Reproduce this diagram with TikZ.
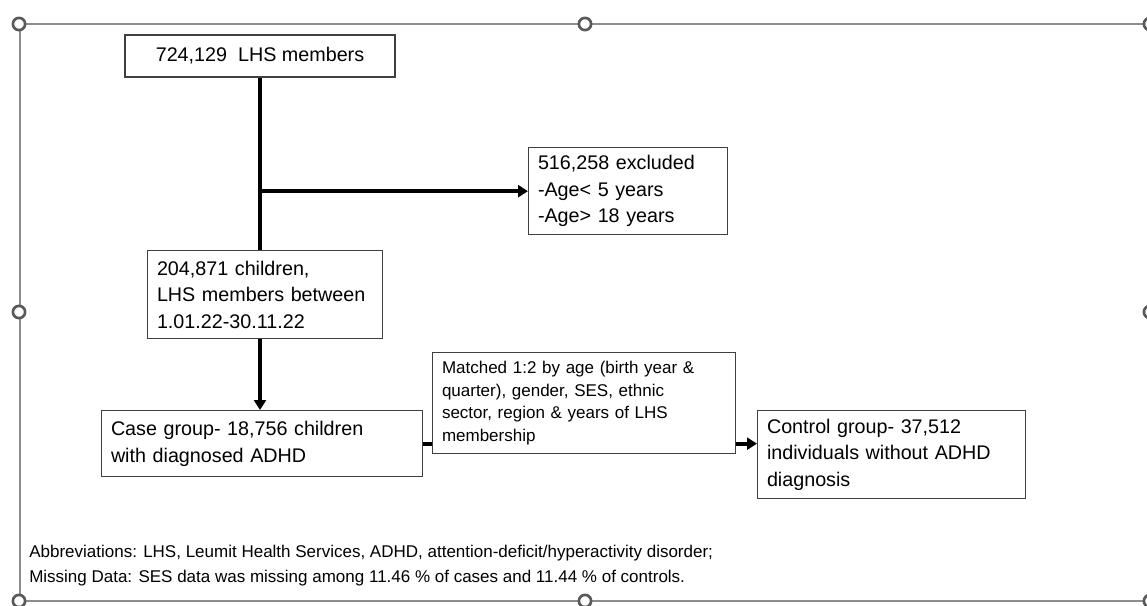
\documentclass[tikz,border=0pt]{standalone}
\usepackage{fontspec}
\setmainfont{Liberation Sans}
\usetikzlibrary{arrows.meta}

\begin{document}
\begin{tikzpicture}[
  x=0.75pt, y=-0.75pt,
  every node/.style={font=\fontsize{14.8}{20}\selectfont},
  box/.style={draw=black!75, line width=1pt, anchor=north west,
    inner xsep=7pt, inner ysep=0pt, align=left},
  small/.style={font=\fontsize{12.75}{16.9}\selectfont},
  link/.style={line width=3pt},
  arrow/.style={link, -{Triangle[length=7.5pt, width=9pt]}},
  note/.style={anchor=base west, inner sep=0pt, font=\fontsize{12.75}{17}\selectfont},
  frame/.style={draw=black!45, line width=1.3pt},
  handle/.style={draw=black!65, line width=2pt, fill=white}
]
  \useasboundingbox (0,0) rectangle (1147,606);
  \clip (0,0) rectangle (1147,606);

  % selection frame
  \draw[frame] (20,24) rectangle (1150,601);
  \foreach \hx/\hy in {19/24, 585/24, 1150/24, 19/312, 1150/312, 19/601, 585/601, 1150/601}
    \draw[handle] (\hx,\hy) circle[radius=4.6pt];

  % boxes
  \node[box, anchor=center, align=center, minimum width=202.5pt, minimum height=31.5pt]
    (members) at (260,56) {724,129\ \ LHS members};
  \node[box, text width=135.25pt, minimum height=65.25pt] (excluded) at (528,147)
    {516,258 excluded\\-Age< 5 years\\-Age> 18 years};
  \node[box, text width=162.25pt, minimum height=66pt] (children) at (147,250)
    {204,871 children,\\LHS members between\\1.01.22-30.11.22};
  \node[box, text width=226.75pt, minimum height=49.5pt] (cases) at (101,410)
    {Case group- 18,756 children\\with diagnosed ADHD};
  \node[box, small, text width=213.25pt, minimum height=75.75pt] (matched) at (432,352)
    {Matched 1:2 by age (birth year \&\\quarter), gender, SES, ethnic\\sector, region \& years of LHS\\membership};
  \node[box, text width=187pt, minimum height=66pt] (controls) at (757,410)
    {Control group- 37,512\\individuals without ADHD\\diagnosis};

  % connectors
  \draw[link] (members.south) -- (members.south |- children.north);
  \draw[arrow] (members.south |- excluded.west) -- (excluded.west);
  \draw[arrow] (members.south |- children.south) -- (members.south |- cases.north);
  \draw[link] (cases.east) -- (cases.east -| matched.west);
  \draw[arrow] (cases.east -| matched.east) -- (cases.east -| controls.west);

  % notes
  \node[note] (abbrev) at (29,557)
    {Abbreviations: LHS, Leumit Health Services, ADHD, attention-deficit/hyperactivity disorder;};
  \node[note] (missing) at (29,582)
    {Missing Data: SES data was missing among 11.46 \% of cases and 11.44 \% of controls.};
\end{tikzpicture}
\end{document}
